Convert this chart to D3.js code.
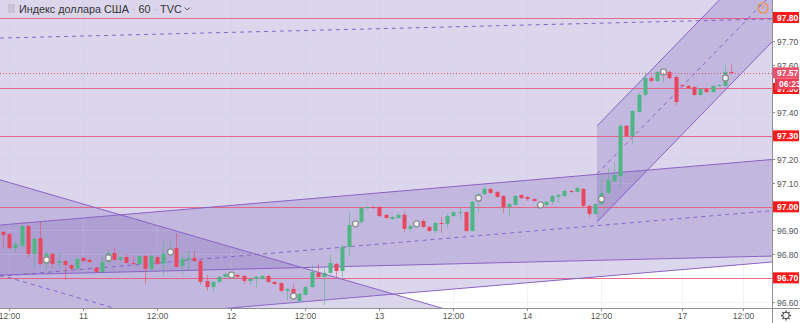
<!DOCTYPE html>
<html><head><meta charset="utf-8">
<script src="https://cdn.jsdelivr.net/npm/d3@7"></script>
<style>body{margin:0;background:#fff;overflow:hidden}svg{display:block}</style>
</head><body><svg id="c" width="800" height="323"></svg>
<script>
// ---- data (hourly candles, Индекс доллара США, TVC, 60) ----
const open  = [96.894,96.885,96.826,96.835,96.919,96.801,96.868,96.759,96.801,96.763,96.771,96.754,96.738,96.784,96.776,96.742,96.725,96.767,96.805,96.776,96.788,96.763,96.759,96.792,96.738,96.788,96.759,96.801,96.826,96.750,96.776,96.784,96.771,96.687,96.661,96.683,96.704,96.708,96.712,96.708,96.687,96.695,96.695,96.708,96.683,96.678,96.645,96.653,96.602,96.628,96.661,96.721,96.704,96.721,96.759,96.729,96.830,96.923,96.936,96.995,96.999,96.999,96.966,96.949,96.953,96.966,96.907,96.923,96.940,96.915,96.898,96.932,96.928,96.961,96.974,96.978,96.898,97.021,97.054,97.076,97.063,97.046,96.999,97.008,97.050,97.042,97.033,97.008,97.008,97.021,97.042,97.046,97.067,97.063,97.076,97.004,96.970,97.012,97.059,97.109,97.130,97.342,97.299,97.401,97.473,97.544,97.532,97.566,97.570,97.549,97.515,97.511,97.506,97.473,97.498,97.485,97.511,97.511,97.570];
const high  = [96.898,96.890,96.852,96.923,96.923,96.873,96.936,96.809,96.805,96.805,96.776,96.759,96.788,96.788,96.780,96.746,96.797,96.818,96.830,96.792,96.801,96.788,96.797,96.797,96.797,96.797,96.852,96.856,96.890,96.801,96.814,96.814,96.780,96.712,96.687,96.708,96.725,96.716,96.716,96.712,96.699,96.708,96.712,96.712,96.687,96.683,96.657,96.674,96.636,96.670,96.754,96.759,96.742,96.797,96.763,96.839,96.974,96.945,96.999,97.004,97.004,97.004,96.970,96.961,96.974,96.978,96.923,96.936,96.949,96.919,96.936,96.957,96.970,96.983,96.995,96.983,97.025,97.059,97.088,97.080,97.067,97.050,97.016,97.050,97.054,97.046,97.037,97.016,97.025,97.050,97.054,97.071,97.071,97.084,97.080,97.008,97.016,97.135,97.164,97.190,97.350,97.346,97.409,97.481,97.570,97.557,97.574,97.578,97.574,97.553,97.519,97.515,97.511,97.502,97.502,97.515,97.519,97.599,97.604];
const low   = [96.830,96.818,96.809,96.826,96.784,96.742,96.754,96.733,96.742,96.742,96.691,96.729,96.733,96.767,96.763,96.721,96.721,96.763,96.771,96.771,96.759,96.754,96.750,96.674,96.725,96.754,96.708,96.792,96.742,96.712,96.733,96.767,96.670,96.645,96.640,96.678,96.699,96.704,96.699,96.674,96.670,96.661,96.691,96.678,96.670,96.640,96.607,96.611,96.594,96.623,96.657,96.699,96.585,96.716,96.699,96.704,96.792,96.919,96.928,96.991,96.991,96.957,96.949,96.945,96.949,96.894,96.894,96.919,96.911,96.894,96.890,96.890,96.911,96.957,96.949,96.894,96.894,96.978,97.050,97.054,97.037,96.974,96.957,97.004,97.033,97.025,97.021,97.004,96.999,97.008,97.016,97.042,97.059,97.059,96.999,96.957,96.966,97.004,97.054,97.105,97.080,97.295,97.266,97.397,97.468,97.527,97.527,97.523,97.540,97.430,97.506,97.498,97.468,97.468,97.481,97.481,97.506,97.506,97.561];
const close = [96.881,96.826,96.843,96.919,96.801,96.864,96.759,96.801,96.759,96.771,96.754,96.738,96.780,96.771,96.767,96.725,96.767,96.805,96.776,96.788,96.763,96.759,96.792,96.738,96.792,96.759,96.801,96.822,96.746,96.780,96.784,96.771,96.683,96.661,96.683,96.704,96.716,96.712,96.704,96.687,96.695,96.704,96.708,96.683,96.674,96.645,96.653,96.615,96.632,96.661,96.725,96.704,96.721,96.763,96.729,96.830,96.923,96.932,96.995,96.999,96.995,96.961,96.953,96.957,96.966,96.907,96.919,96.932,96.915,96.898,96.932,96.928,96.961,96.978,96.978,96.898,97.021,97.054,97.076,97.059,97.042,96.999,97.012,97.046,97.037,97.033,97.025,97.012,97.021,97.046,97.050,97.067,97.063,97.080,97.004,96.970,97.012,97.059,97.114,97.135,97.342,97.299,97.405,97.473,97.544,97.532,97.570,97.574,97.544,97.443,97.511,97.502,97.473,97.498,97.485,97.511,97.515,97.570,97.566];
const markerIdx = [7,17,27,37,47,57,67,77,87,97,107,117];
const markerVal = [96.776,96.784,96.809,96.712,96.623,96.928,96.928,97.037,97.008,97.033,97.570,97.544];
const priceTicks = [96.6,96.7,96.8,96.9,97.0,97.1,97.2,97.3,97.4,97.5,97.6,97.7,97.8];
const timeTickIdx = [1,13,25,37,49,61,73,85,97,110,120];
const timeTickLabels = ["12:00","11","12:00","12","12:00","13","12:00","14","12:00","17","12:00"];
const levelPrices = [97.80,97.50,97.30,97.00,96.70];
const lastPrice = 97.566;
const countdown = "06:23";
const titleParts = ["Индекс доллара США", "60", "TVC"];
// parallel channels (bar index / price): start, end, upper start/end, lower start/end
const channelStart = [-0.49, -0.49, -0.49, 96.27];
const channelEnd   = [124.64, 124.64, 124.64, 124.64];
const channelUp1   = [98.714, 96.923, 97.114, 97.342];
const channelUp2   = [98.796, 97.200, 96.167, 98.103];
const channelLo1   = [96.712, 96.490, 96.310, 96.936];
const channelLo2   = [96.792, 96.767, 95.365, 97.697];

// ---- layout ----
const W = 800, H = 323, plotR = 772, plotB = 308;
const svg = d3.select("#c");
const x = d3.scaleLinear().domain([-0.486, 124.635]).range([0, plotR]);
const y = d3.scaleLinear().domain([96.6, 97.8]).range([301.5, 17.5]);
const fnt = "Liberation Sans, Arial, sans-serif";

svg.append("rect").attr("width", W).attr("height", H).attr("fill", "#fff");
svg.append("defs").append("clipPath").attr("id", "plot").append("rect").attr("width", plotR).attr("height", plotB);
const g = svg.append("g").attr("clip-path", "url(#plot)");

const hLine = (sel, cls, col) => sel.selectAll("." + cls).data(priceTicks).join("line").attr("class", cls)
  .attr("x1", 0).attr("x2", plotR).attr("y1", d => Math.round(y(d)) + 0.5).attr("y2", d => Math.round(y(d)) + 0.5).attr("stroke", col);
const vLine = (sel, cls, col) => sel.selectAll("." + cls).data(timeTickIdx).join("line").attr("class", cls)
  .attr("y1", 0).attr("y2", plotB).attr("x1", d => Math.round(x(d)) + 0.5).attr("x2", d => Math.round(x(d)) + 0.5).attr("stroke", col);
hLine(g, "hg", "#eef0f6"); vLine(g, "vg", "#eef0f6");

// channel fills
const chans = channelStart.map((s, i) => ({s, e: channelEnd[i], u1: channelUp1[i], u2: channelUp2[i], l1: channelLo1[i], l2: channelLo2[i]}));
g.selectAll(".cf").data(chans).join("path").attr("class", "cf")
  .attr("d", c => `M${x(c.s)},${y(c.u1)}L${x(c.e)},${y(c.u2)}L${x(c.e)},${y(c.l2)}L${x(c.s)},${y(c.l1)}Z`)
  .attr("fill", "rgba(115,91,179,0.25)");

hLine(g, "hg2", "rgba(255,255,255,0.16)"); vLine(g, "vg2", "rgba(255,255,255,0.16)");

// horizontal level lines
g.selectAll(".lv").data(levelPrices).join("line").attr("class", "lv")
  .attr("x1", 0).attr("x2", plotR).attr("y1", d => Math.round(y(d)) + 0.5).attr("y2", d => Math.round(y(d)) + 0.5)
  .attr("stroke", "#e8506e").attr("stroke-opacity", 0.8);

// channel lines
const lineCol = "#8a63c6";
chans.forEach(c => {
  g.append("line").attr("x1", x(c.s)).attr("y1", y(c.u1)).attr("x2", x(c.e)).attr("y2", y(c.u2)).attr("stroke", lineCol);
  g.append("line").attr("x1", x(c.s)).attr("y1", y(c.l1)).attr("x2", x(c.e)).attr("y2", y(c.l2)).attr("stroke", lineCol);
  g.append("line").attr("x1", x(c.s)).attr("y1", y((c.u1 + c.l1) / 2)).attr("x2", x(c.e)).attr("y2", y((c.u2 + c.l2) / 2))
    .attr("stroke", lineCol).attr("stroke-dasharray", "4,4");
});

// candles
const bars = open.map((o, i) => ({i, o, h: high[i], l: low[i], c: close[i]}));
const up = "#50b585", dn = "#e8485f";
const cg = g.append("g");
cg.selectAll("line").data(bars).join("line")
  .attr("x1", d => Math.round(x(d.i)) + 0.5).attr("x2", d => Math.round(x(d.i)) + 0.5)
  .attr("y1", d => y(d.h)).attr("y2", d => y(d.l))
  .attr("stroke", d => d.c >= d.o ? up : dn).attr("stroke-opacity", 0.55);
cg.selectAll("rect").data(bars).join("rect")
  .attr("x", d => Math.round(x(d.i)) - 1.5).attr("width", 4)
  .attr("y", d => y(Math.max(d.o, d.c)))
  .attr("height", d => Math.max(1, y(Math.min(d.o, d.c)) - y(Math.max(d.o, d.c))))
  .attr("fill", d => d.c >= d.o ? up : dn);

// markers
g.selectAll(".mk").data(markerIdx).join("circle").attr("class", "mk")
  .attr("cx", d => Math.round(x(d)) + 0.5).attr("cy", (d, i) => y(markerVal[i])).attr("r", 3)
  .attr("fill", "#f4f4f4").attr("stroke", "#8d8d8d").attr("stroke-width", 1.3);

// last price dotted
g.append("line").attr("x1", 0).attr("x2", plotR).attr("y1", Math.round(y(lastPrice)) + 0.5).attr("y2", Math.round(y(lastPrice)) + 0.5)
  .attr("stroke", "#e8506e").attr("stroke-dasharray", "1,2");

// alert icon top right
g.append("circle").attr("cx", 763).attr("cy", 8).attr("r", 5).attr("fill", "none").attr("stroke", "#f08a3c").attr("stroke-width", 1.2);
g.append("line").attr("x1", 763).attr("x2", 763).attr("y1", 5).attr("y2", 9).attr("stroke", "#f08a3c");

// title
svg.append("rect").attr("x", 8).attr("y", 4).attr("width", 7).attr("height", 9).attr("fill", "#c9c4d6");
const tt = svg.append("text").attr("x", 19).attr("y", 13).attr("font-family", fnt).attr("font-size", 10.8).attr("fill", "#333");
tt.append("tspan").text(titleParts[0]);
tt.append("tspan").text(" · ").attr("fill", "#aaa");
tt.append("tspan").text(titleParts[1]);
tt.append("tspan").text(" · ").attr("fill", "#aaa");
tt.append("tspan").text(titleParts[2]);
const tw = tt.node().getComputedTextLength();
svg.append("path").attr("d", `M${19 + tw + 3},7.5 l2.5,2.5 l2.5,-2.5`).attr("fill", "none").attr("stroke", "#555").attr("stroke-width", 1);

// axes
svg.append("rect").attr("x", plotR).attr("y", 0).attr("width", W - plotR).attr("height", H).attr("fill", "#fff");
svg.append("rect").attr("x", 0).attr("y", plotB).attr("width", W).attr("height", H - plotB).attr("fill", "#fff");
svg.append("line").attr("x1", plotR + 0.5).attr("x2", plotR + 0.5).attr("y1", 0).attr("y2", H).attr("stroke", "#8f8f8f");
svg.append("line").attr("x1", 0).attr("x2", W).attr("y1", plotB + 0.5).attr("y2", plotB + 0.5).attr("stroke", "#8f8f8f");

const ya = svg.append("g");
priceTicks.forEach(p => {
  const yy = Math.round(y(p)) + 0.5;
  ya.append("line").attr("x1", plotR).attr("x2", plotR + 3).attr("y1", yy).attr("y2", yy).attr("stroke", "#8f8f8f");
  ya.append("text").attr("x", plotR + 5).attr("y", yy + 3).text(p.toFixed(2))
    .attr("font-family", fnt).attr("font-size", 8.5).attr("fill", "#555");
});
const xa = svg.append("g");
timeTickIdx.forEach((t, i) => {
  const xx = Math.round(x(t)) + 0.5;
  xa.append("line").attr("x1", xx).attr("x2", xx).attr("y1", plotB).attr("y2", plotB + 3).attr("stroke", "#8f8f8f");
  xa.append("text").attr("x", xx).attr("y", 319).attr("text-anchor", "middle").text(timeTickLabels[i])
    .attr("font-family", fnt).attr("font-size", 8.5).attr("fill", "#555");
});

// level labels
function box(p, txt, col, dy, dx) {
  const yy = y(p) + (dy || 0), xx = plotR + 1 + (dx || 0);
  svg.append("rect").attr("x", xx).attr("y", yy - 5.5).attr("width", W - xx - 1).attr("height", 11).attr("fill", col);
  svg.append("text").attr("x", xx + 4).attr("y", yy + 3).text(txt)
    .attr("font-family", fnt).attr("font-size", 8.5).attr("font-weight", "bold").attr("fill", "#fff");
}
levelPrices.forEach(p => box(p, p.toFixed(2), "#ff1a1a"));
box(lastPrice, lastPrice.toFixed(2), "#f0506a");
box(lastPrice, countdown, "#ee3d55", 11, 2);

// gear
const gx = 786, gy = 315.5;
const gear = svg.append("g").attr("stroke", "#444").attr("fill", "none");
d3.range(8).forEach(k => {
  const a = k * Math.PI / 4;
  gear.append("line").attr("x1", gx + 3 * Math.cos(a)).attr("y1", gy + 3 * Math.sin(a))
    .attr("x2", gx + 5 * Math.cos(a)).attr("y2", gy + 5 * Math.sin(a)).attr("stroke-width", 1.3);
});
gear.append("circle").attr("cx", gx).attr("cy", gy).attr("r", 3.2).attr("fill", "#fff");
</script></body></html>
